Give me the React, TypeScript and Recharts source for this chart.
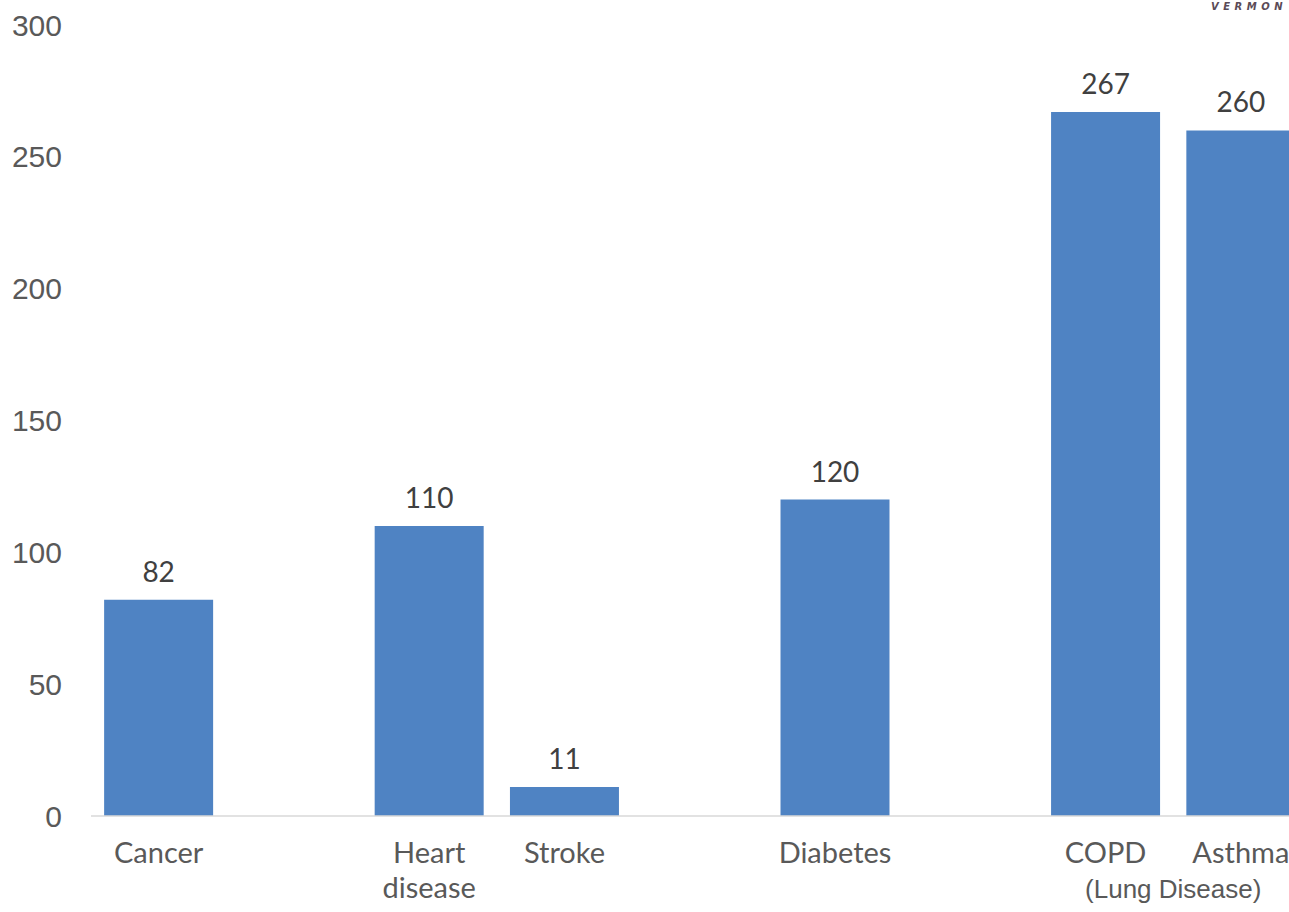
import React from 'react';
import { BarChart, Bar, XAxis, YAxis, LabelList } from 'recharts';

// Empty strings are spacer slots between condition groups
const categories = ['Cancer', '', 'Heart disease', 'Stroke', '', 'Diabetes', '', 'COPD', 'Asthma'];
const values: (number | null)[] = [82, null, 110, 11, null, 120, null, 267, 260];
const yTicks = [0, 50, 100, 150, 200, 250, 300];
const groupLabel = '(Lung Disease)';
const groupEnd = 'Asthma';

const data = categories.map((name, i) => ({ name, value: values[i] }));

const BAR_COLOR = '#4F83C3';
const TEXT_GRAY = '#595959';
const LABEL_FONT = 'Lato, "Open Sans", sans-serif';

const CategoryTick = (props: any) => {
  const { x, y, payload } = props;
  const value: string = payload.value || '';
  const lines = value === 'Heart disease' ? ['Heart', 'disease'] : [value];
  const half = payload.offset ?? 67.6;
  return (
    <g>
      <text x={x} y={y + 47} textAnchor="middle" fill={TEXT_GRAY} fontSize={29} fontFamily={LABEL_FONT}>
        {lines.map((line, i) => (
          <tspan key={i} x={x} dy={i === 0 ? 0 : 35}>
            {line}
          </tspan>
        ))}
      </text>
      {value === groupEnd && (
        <text
          x={x - half}
          y={y + 82}
          textAnchor="middle"
          fill={TEXT_GRAY}
          fontSize={26}
          fontFamily='"Liberation Sans", Arial, sans-serif'
        >
          {groupLabel}
        </text>
      )}
    </g>
  );
};

export default function App() {
  return (
    <div
      style={{
        position: 'absolute',
        left: 0,
        top: 0,
        width: 1289,
        height: 912,
        overflow: 'hidden',
        background: '#fff',
      }}
    >
      <BarChart
        width={1320}
        height={912}
        data={data}
        margin={{ top: 25, right: 11.5, bottom: 0, left: 0 }}
        barCategoryGap="9.7%"
      >
        <XAxis
          dataKey="name"
          height={96}
          interval={0}
          tickLine={false}
          tickSize={0}
          tickMargin={0}
          axisLine={{ stroke: '#d9d9d9', strokeWidth: 1.5 }}
          tick={<CategoryTick />}
        />
        <YAxis
          width={91}
          domain={[0, 300]}
          ticks={yTicks}
          axisLine={false}
          tickLine={false}
          tickSize={0}
          tickMargin={29}
          tick={{ fill: TEXT_GRAY, fontSize: 30, fontFamily: '"Liberation Sans", Arial, sans-serif' }}
        />
        <Bar dataKey="value" fill={BAR_COLOR} isAnimationActive={false}>
          <LabelList
            dataKey="value"
            position="top"
            offset={18}
            fill="#404040"
            fontSize={28}
            fontFamily={LABEL_FONT}
          />
        </Bar>
      </BarChart>
      <span
        style={{
          position: 'absolute',
          left: 1211,
          top: 1,
          fontFamily: '"DejaVu Sans", sans-serif',
          fontWeight: 'bold',
          fontStyle: 'italic',
          fontSize: 10,
          lineHeight: '12px',
          letterSpacing: 4.5,
          color: '#5b4b57',
          whiteSpace: 'nowrap',
        }}
      >
        VERMON
      </span>
    </div>
  );
}
